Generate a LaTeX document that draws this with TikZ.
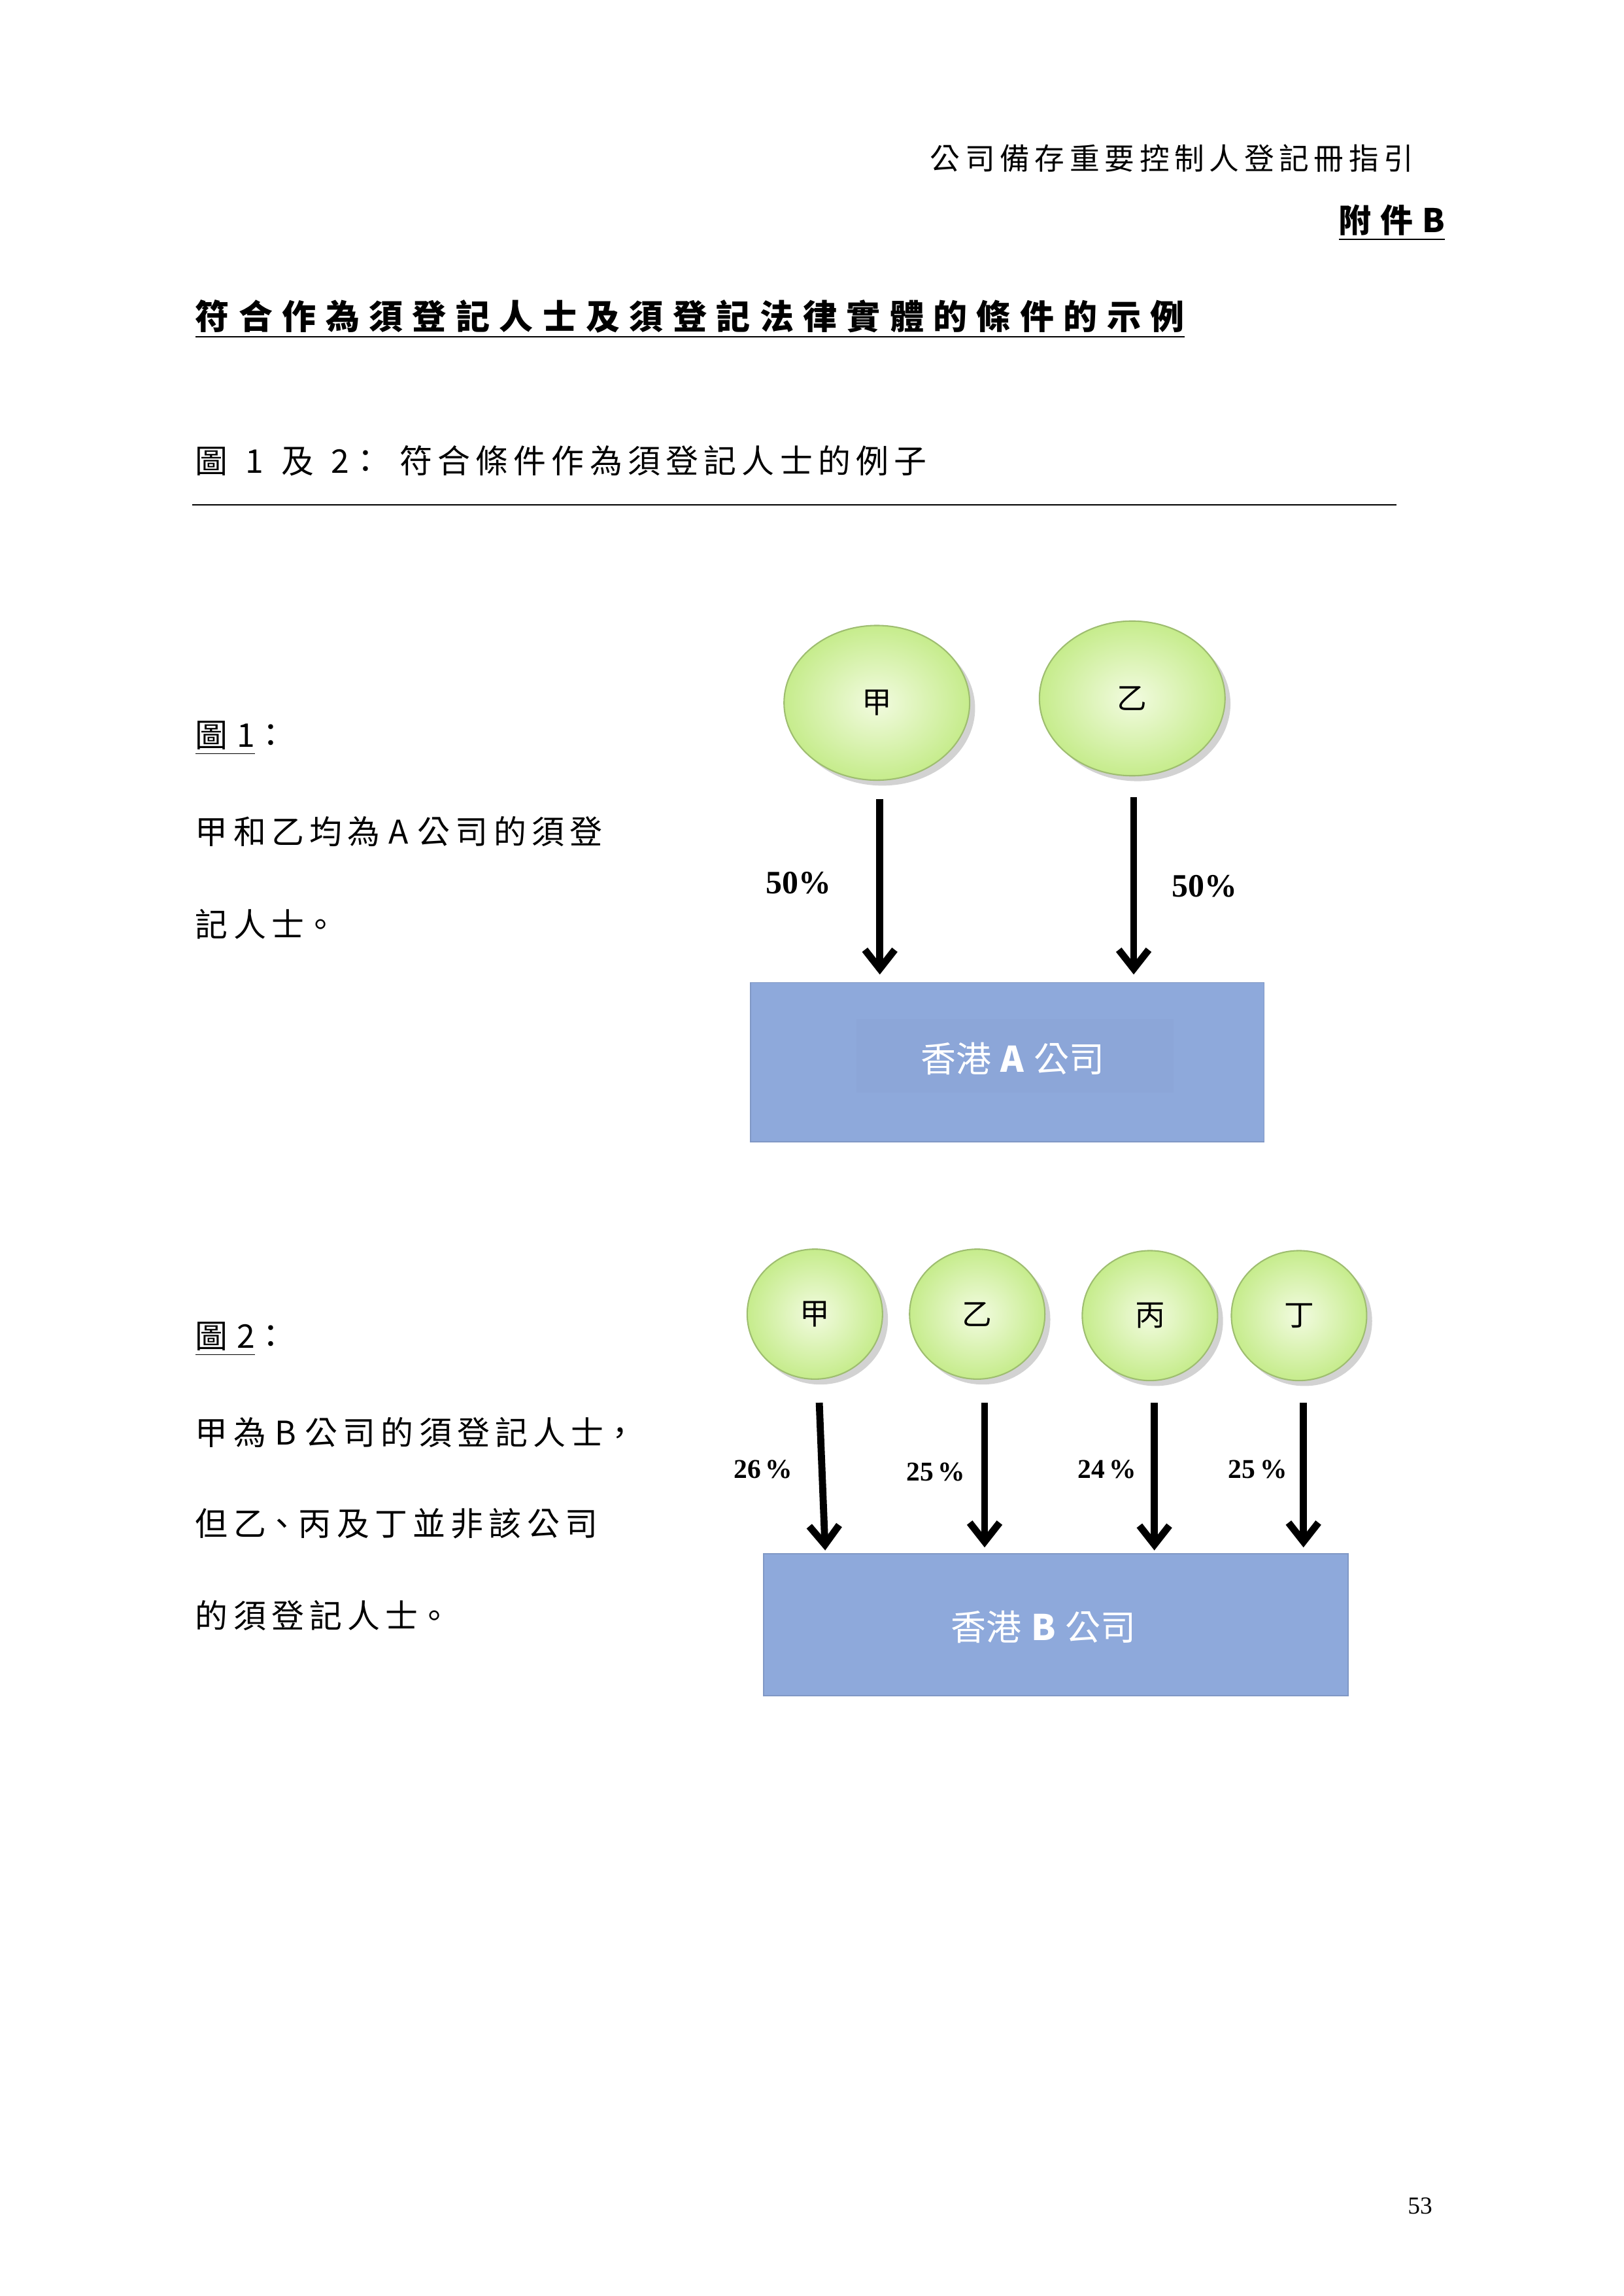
\documentclass[tikz,border=0pt]{standalone}
\usepackage{fontspec}
\setmainfont{Liberation Serif}
\newfontfamily\cjk[WordSpace=1.2]{Noto Sans CJK TC}
\usetikzlibrary{arrows.meta,shadows,shapes.geometric}
\definecolor{boxblue}{HTML}{8EA9DB}
\definecolor{gin}{HTML}{F2FBE0}
\definecolor{gout}{HTML}{C6EC8C}
\begin{document}
\begin{tikzpicture}[x=0.01909cm,y=-0.01909cm,
  txt/.style={anchor=west,inner sep=0,font=\cjk\fontsize{12}{14}\selectfont},
  circ/.style={ellipse,draw=gout!80!black,line width=0.5pt,inner color=gin,outer color=gout,
     drop shadow={shadow xshift=2pt,shadow yshift=-2pt,fill=black!35},font=\cjk\fontsize{11}{13}\selectfont},
  arr/.style={line width=2.6pt,-{Straight Barb[length=7pt,width=11pt,line width=2.6pt]}},
  pct/.style={font=\bfseries\fontsize{12}{14}\selectfont,inner sep=0},
  pcts/.style={font=\bfseries\fontsize{10}{12}\selectfont,inner sep=0},
  box/.style={fill=boxblue,draw=boxblue!90!black,line width=0.4pt,anchor=north west,inner sep=0}]
\useasboundingbox (0,0) rectangle (1100,1555);
\fill[white] (0,0) rectangle (1100,1555);
\node[anchor=east,inner sep=0,font=\cjk\fontsize{11}{13}\selectfont] (hdr) at (958,107) {公\,司\,備\,存\,重\,要\,控\,制\,人\,登\,記\,冊\,指\,引};
\node[anchor=east,inner sep=1pt,font=\cjk\bfseries\fontsize{12}{14}\selectfont] (annex) at (981,151) {\underline{附\;件\;\textbf{B}}};
\node[txt,font=\cjk\bfseries\fontsize{12.5}{14}\selectfont] (title) at (132,216) {\underline{符\;合\;作\;為\;須\;登\;記\;人\;士\;及\;須\;登\;記\;法\;律\;實\;體\;的\;條\;件\;的\;示\;例}};
\node[txt] (sub) at (132,312) {圖\ \ 1\ \ 及\ \ 2：\ \ 符\,合\,條\,件\,作\,為\,須\,登\,記\,人\,士\,的\,例\,子};
\coordinate (l1) at (130,342); \coordinate (l2) at (946,342);
\draw[line width=0.6pt] (l1) -- (l2);

\node[txt] (f1) at (132,500) {\underline{圖 1}：};
\node[txt] (f1a) at (132,563) {甲\,和\,乙\,均\,為\ A\ 公\,司\,的\,須\,登};
\node[txt] (f1b) at (132,626) {記\,人\,士。};
\node[txt] (f2) at (132,907) {\underline{圖\ 2}：};
\node[txt] (f2a) at (132,970) {甲\,為\ B\ 公\,司\,的\,須\,登\,記\,人\,士，};
\node[txt] (f2b) at (132,1032) {但\,乙、丙\,及\,丁\,並\,非\,該\,公\,司};
\node[txt] (f2c) at (132,1094) {的\,須\,登\,記\,人\,士。};

% figure 1
\node[circ,minimum width=2.4cm,minimum height=2.0cm] (a) at (594,476) {甲};
\node[circ,minimum width=2.4cm,minimum height=2.0cm] (b) at (767,473) {乙};
\node[box,minimum width=348*0.01909cm,minimum height=108*0.01909cm] (A) at (508,665) {};
\fill[boxblue!96!black,opacity=0.3] (580,690) rectangle (795,740);
\node[font=\cjk\fontsize{13}{15}\selectfont,text=white] (At) at (686,717) {香港\ \textbf{A}\ 公司};
\coordinate (a1) at (596,541); \coordinate (a2) at (596,660);
\coordinate (b1) at (768,540); \coordinate (b2) at (768,660);
\draw[arr] (a1) -- (a2);
\draw[arr] (b1) -- (b2);
\node[pct] (p1) at (541,598) {50\%};
\node[pct] (p2) at (816,600) {50\%};

% figure 2
\node[circ,minimum width=1.75cm,minimum height=1.68cm] (c1) at (552,890) {甲};
\node[circ,minimum width=1.75cm,minimum height=1.68cm] (c2) at (662,890) {乙};
\node[circ,minimum width=1.75cm,minimum height=1.68cm] (c3) at (779,891) {丙};
\node[circ,minimum width=1.75cm,minimum height=1.68cm] (c4) at (880,891) {丁};
\node[box,minimum width=396*0.01909cm,minimum height=96*0.01909cm] (B) at (517,1052) {};
\node[font=\cjk\fontsize{13}{15}\selectfont,text=white] (Bt) at (707,1102) {香港\ \textbf{B}\ 公司};
\coordinate (d1) at (555,950); \coordinate (d2) at (559,1050);
\coordinate (e1) at (667,950); \coordinate (e2) at (667,1048);
\coordinate (g1) at (782,950); \coordinate (g2) at (782,1050);
\coordinate (h1) at (883,950); \coordinate (h2) at (883,1048);
\draw[arr] (d1) -- (d2);
\draw[arr] (e1) -- (e2);
\draw[arr] (g1) -- (g2);
\draw[arr] (h1) -- (h2);
\node[pcts] (q1) at (517,995) {26\,\%};
\node[pcts] (q2) at (634,997) {25\,\%};
\node[pcts] (q3) at (750,995) {24\,\%};
\node[pcts] (q4) at (852,995) {25\,\%};

\node[font=\fontsize{9}{11}\selectfont,inner sep=0] (pg) at (962,1494) {53};
\end{tikzpicture}
\end{document}
